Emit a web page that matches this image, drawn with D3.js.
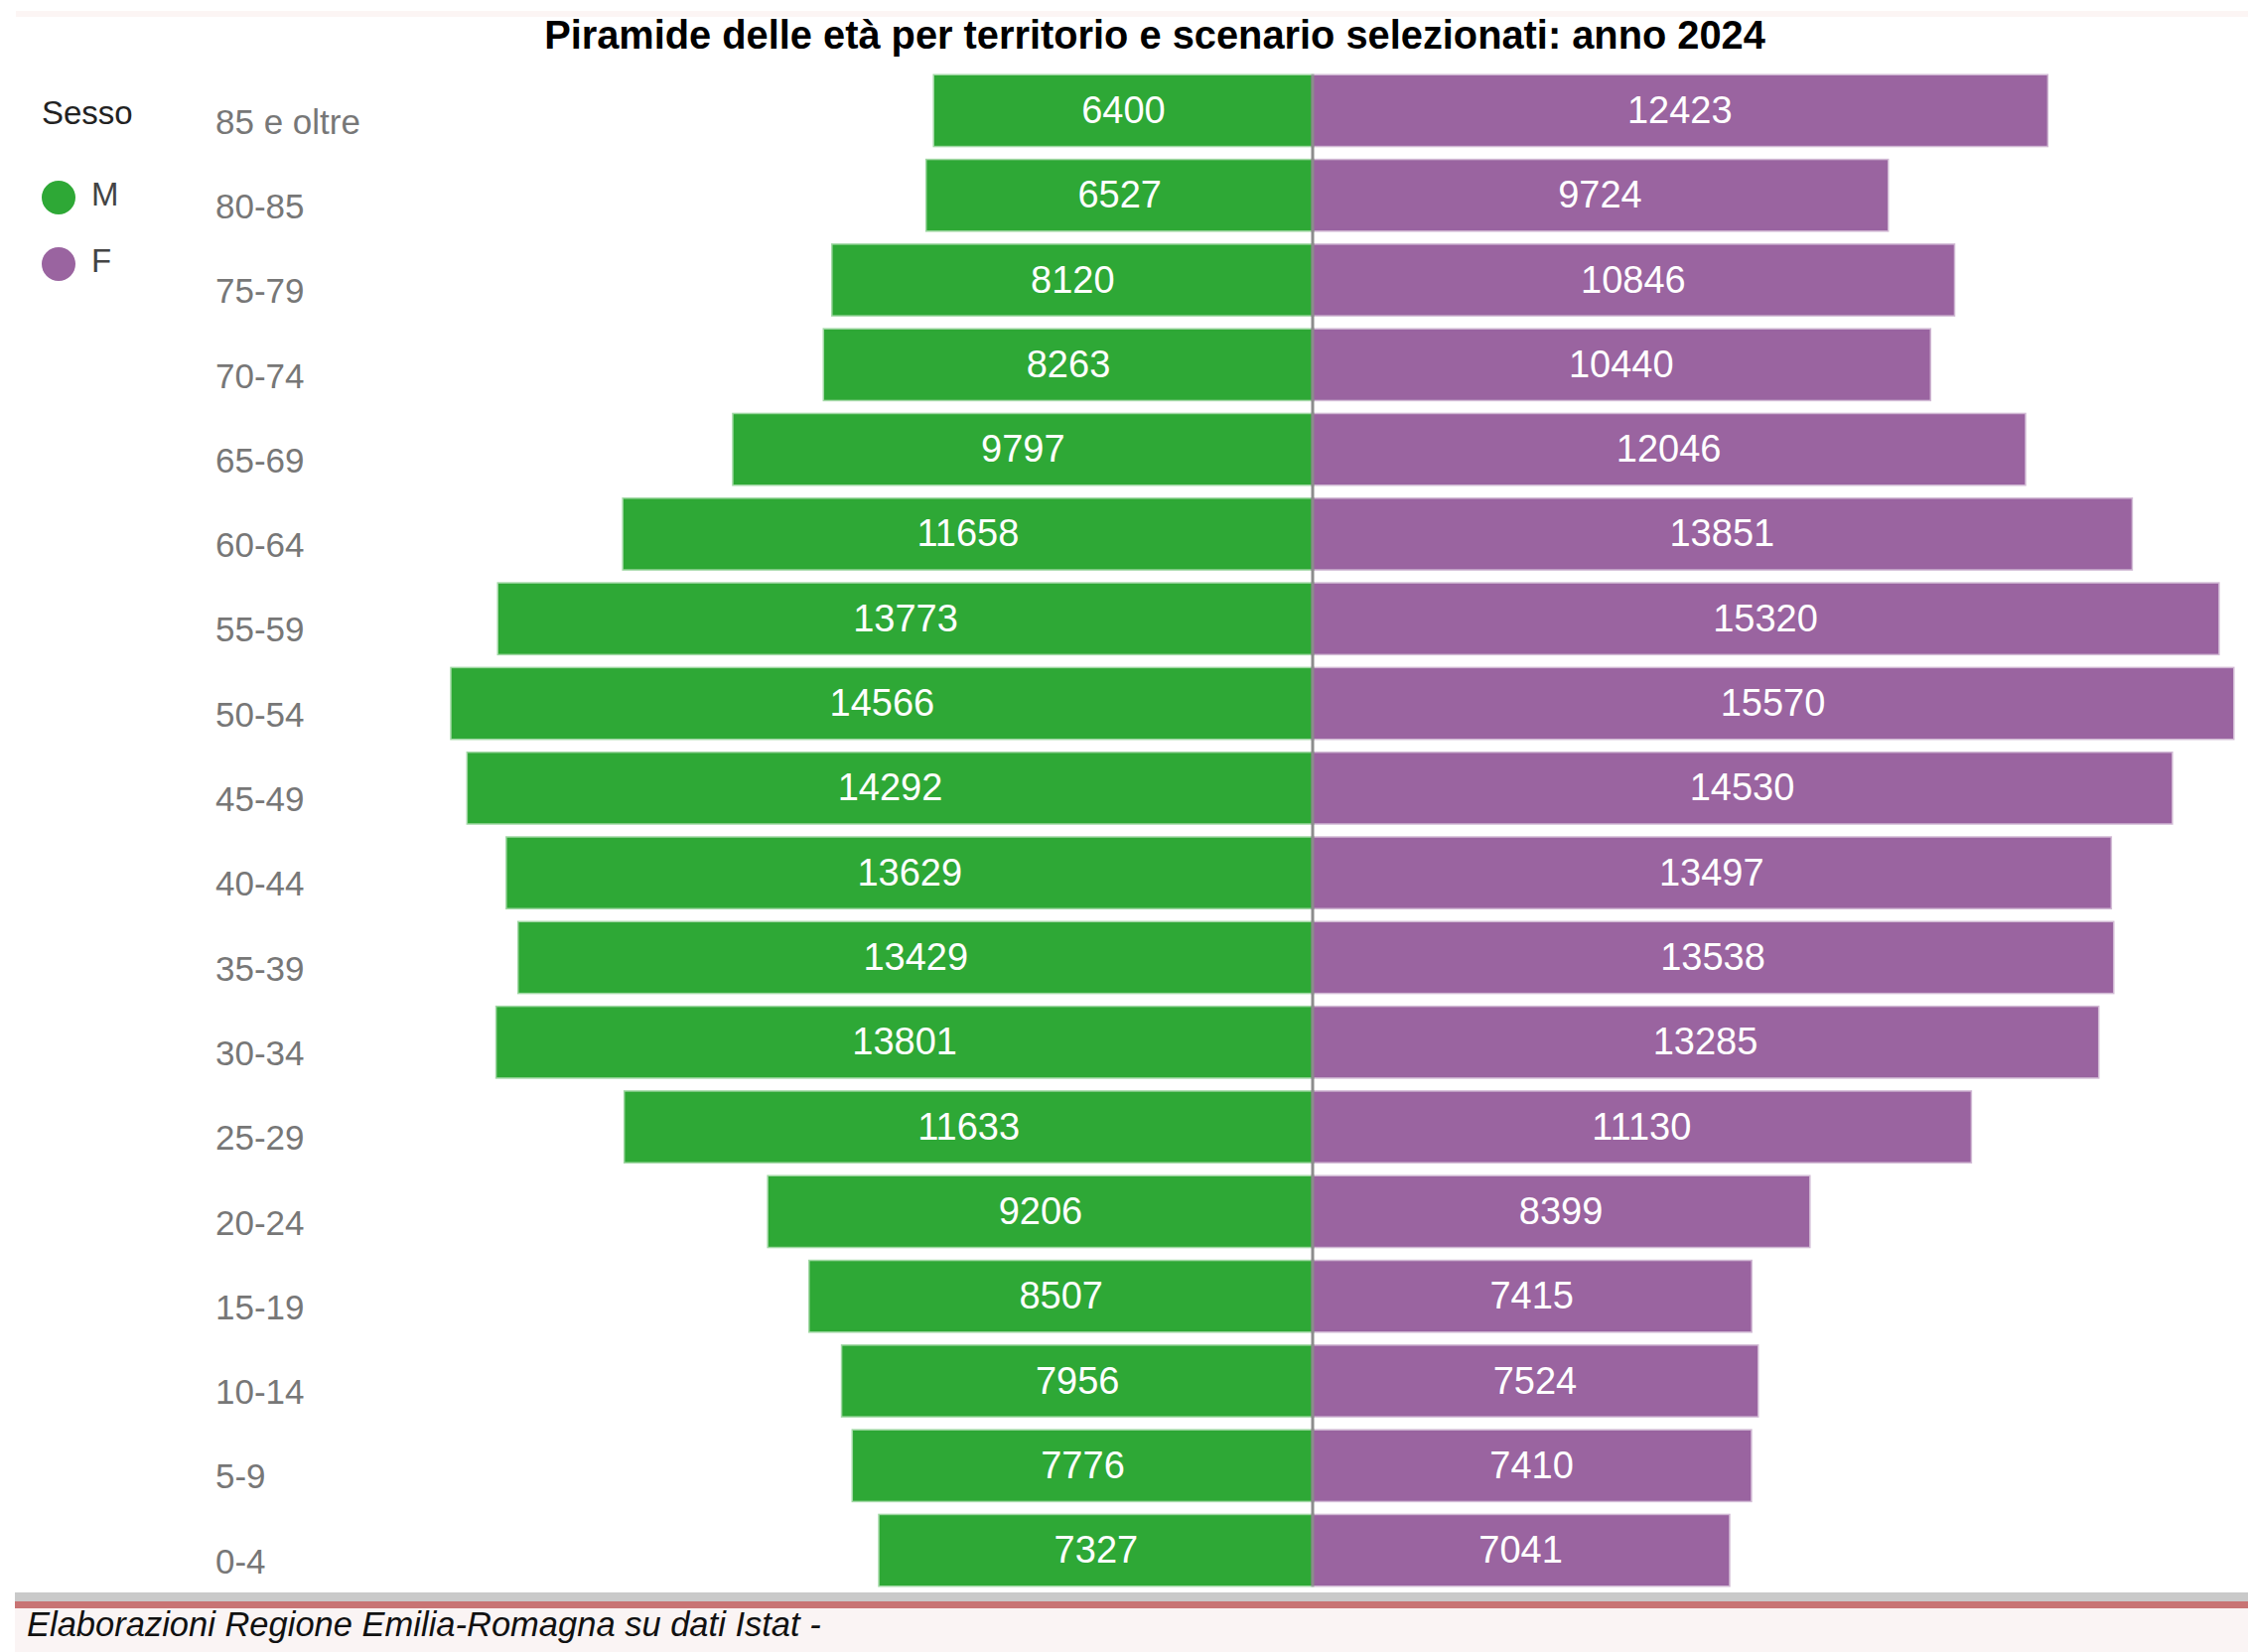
<!DOCTYPE html>
<html>
<head>
<meta charset="utf-8">
<script src="https://cdn.jsdelivr.net/npm/d3@7"></script>
<style>
  html, body { margin: 0; padding: 0; background: #ffffff; }
  svg { display: block; }
</style>
</head>
<body>
<svg id="chart" width="2264" height="1664"></svg>
<script>
const ageGroups = ["85 e oltre","80-85","75-79","70-74","65-69","60-64","55-59","50-54","45-49","40-44","35-39","30-34","25-29","20-24","15-19","10-14","5-9","0-4"];
const maleValues = [6400, 6527, 8120, 8263, 9797, 11658, 13773, 14566, 14292, 13629, 13429, 13801, 11633, 9206, 8507, 7956, 7776, 7327];
const femaleValues = [12423, 9724, 10846, 10440, 12046, 13851, 15320, 15570, 14530, 13497, 13538, 13285, 11130, 8399, 7415, 7524, 7410, 7041];
const legendItems = ["M", "F"];
const titleText = "Piramide delle età per territorio e scenario selezionati: anno 2024";
const footerText = "Elaborazioni Regione Emilia-Romagna su dati Istat -";

const colors = { M: "#2ea836", F: "#9a64a0" };
const svg = d3.select("#chart");
const W = 2264, H = 1664;
const centerX = 1322;
const maxVal = d3.max([...maleValues, ...femaleValues]);
const halfWidth = 927;

const x = d3.scaleLinear().domain([-maxVal, maxVal]).range([centerX - halfWidth, centerX + halfWidth]);
const y = d3.scaleBand().domain(ageGroups).range([76, 1597]).paddingInner(0.17).paddingOuter(0);

const rows = ageGroups.map((g, i) => ({ group: g, m: maleValues[i], f: femaleValues[i] }));

// faint top border
svg.append("rect").attr("x", 16).attr("y", 11).attr("width", W - 16).attr("height", 6).attr("fill", "#fcf5f4");

// title
svg.append("text")
  .attr("x", 1163).attr("y", 49)
  .attr("text-anchor", "middle")
  .attr("font-family", "'Liberation Sans', Arial, sans-serif")
  .attr("font-weight", "bold")
  .attr("font-size", 39.8)
  .attr("fill", "#000")
  .text(titleText);

// legend
svg.append("text")
  .attr("x", 42).attr("y", 125)
  .attr("font-family", "'Liberation Sans', Arial, sans-serif")
  .attr("font-size", 33)
  .attr("fill", "#222")
  .text("Sesso");
const lg = svg.append("g").selectAll("g").data(legendItems).join("g")
  .attr("transform", (d, i) => `translate(0, ${199 + i * 67})`);
lg.append("circle").attr("cx", 59).attr("cy", 0).attr("r", 17).attr("fill", d => colors[d]);
lg.append("text").attr("x", 92).attr("y", 8)
  .attr("font-family", "'Liberation Sans', Arial, sans-serif")
  .attr("font-size", 33).attr("fill", "#444").text(d => d);

// y axis labels
const yAxis = d3.axisLeft(y).tickSize(0).tickPadding(0);
const yg = svg.append("g").attr("transform", "translate(217, 12)").call(yAxis);
yg.select(".domain").remove();
yg.selectAll("text")
  .attr("text-anchor", "start")
  .attr("x", 0)
  .attr("font-family", "'Liberation Sans', Arial, sans-serif")
  .attr("font-size", 35)
  .attr("fill", "#777");

// bars
const barG = svg.append("g");
barG.selectAll("rect.m").data(rows).join("rect")
  .attr("class", "m")
  .attr("x", d => x(-d.m)).attr("y", d => y(d.group))
  .attr("width", d => centerX - x(-d.m)).attr("height", y.bandwidth())
  .attr("fill", colors.M)
  .attr("stroke", colors.M).attr("stroke-opacity", 0.45).attr("stroke-width", 3);
barG.selectAll("rect.f").data(rows).join("rect")
  .attr("class", "f")
  .attr("x", centerX).attr("y", d => y(d.group))
  .attr("width", d => x(d.f) - centerX).attr("height", y.bandwidth())
  .attr("fill", colors.F)
  .attr("stroke", colors.F).attr("stroke-opacity", 0.45).attr("stroke-width", 3);

// center line
svg.append("line")
  .attr("x1", centerX).attr("x2", centerX)
  .attr("y1", y.range()[0]).attr("y2", y.range()[1])
  .attr("stroke", "#8c8c8c").attr("stroke-width", 3);

// bar labels
const lblFont = "'Liberation Sans', Arial, sans-serif";
barG.selectAll("text.ml").data(rows).join("text")
  .attr("class", "ml")
  .attr("x", d => (x(-d.m) + centerX) / 2)
  .attr("y", d => y(d.group) + y.bandwidth() / 2)
  .attr("dy", "0.33em")
  .attr("text-anchor", "middle")
  .attr("font-family", lblFont).attr("font-size", 38).attr("fill", "#fff")
  .text(d => d.m);
barG.selectAll("text.fl").data(rows).join("text")
  .attr("class", "fl")
  .attr("x", d => (x(d.f) + centerX) / 2)
  .attr("y", d => y(d.group) + y.bandwidth() / 2)
  .attr("dy", "0.33em")
  .attr("text-anchor", "middle")
  .attr("font-family", lblFont).attr("font-size", 38).attr("fill", "#fff")
  .text(d => d.f);

// footer
svg.append("rect").attr("x", 15).attr("y", 1604).attr("width", W - 15).attr("height", 10).attr("fill", "#c9c9c9");
svg.append("rect").attr("x", 15).attr("y", 1613).attr("width", W - 15).attr("height", 7).attr("fill", "#c87474");
svg.append("rect").attr("x", 15).attr("y", 1620).attr("width", W - 15).attr("height", 44).attr("fill", "#faf4f4");
svg.append("text")
  .attr("x", 27).attr("y", 1648)
  .attr("font-family", "'Liberation Sans', Arial, sans-serif")
  .attr("font-style", "italic")
  .attr("font-size", 34.5)
  .attr("fill", "#111")
  .text(footerText);
</script>
</body>
</html>
